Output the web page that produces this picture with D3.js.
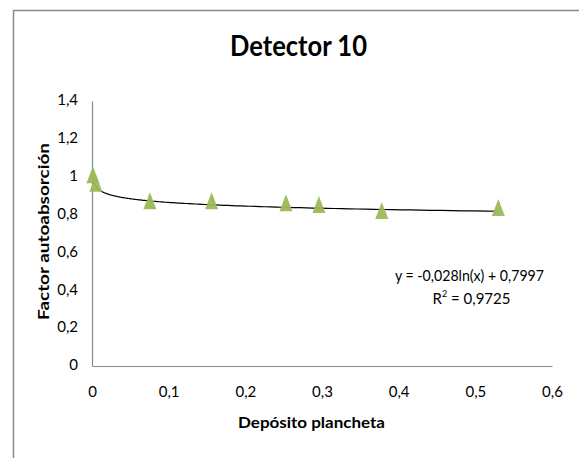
<!DOCTYPE html>
<html><head><meta charset="utf-8">
<script src="https://cdn.jsdelivr.net/npm/d3@7"></script>
<style>body{margin:0;background:#fff}svg{display:block}text{font-family:Lato,"Open Sans",sans-serif}</style>
</head><body><div id="c"></div>
<script>
// Data
const depositoX = [0.0012, 0.005, 0.0755, 0.156, 0.253, 0.296, 0.378, 0.53];
const factorY   = [1.01, 0.965, 0.873, 0.873, 0.862, 0.853, 0.821, 0.837];
const trendA = -0.028, trendB = 0.7997;
const xTicks = [0, 0.1, 0.2, 0.3, 0.4, 0.5, 0.6];
const xTickLabels = ["0", "0,1", "0,2", "0,3", "0,4", "0,5", "0,6"];
const yTicks = [0, 0.2, 0.4, 0.6, 0.8, 1, 1.2, 1.4];
const yTickLabels = ["0", "0,2", "0,4", "0,6", "0,8", "1", "1,2", "1,4"];

const W = 579, H = 458;
const svg = d3.select("#c").append("svg").attr("width", W).attr("height", H);

// chart border (partly cropped)
svg.append("rect").attr("x", 13.5).attr("y", 10.5).attr("width", 700).attr("height", 600)
  .attr("fill", "none").attr("stroke", "#8a8a8a").attr("stroke-width", 1.5);

const x = d3.scaleLinear().domain([0, 0.6]).range([92, 552]);
const y = d3.scaleLinear().domain([0, 1.4]).range([366, 101]);

// axes
const xAxis = d3.axisBottom(x).tickValues(xTicks).tickSize(0)
  .tickFormat((d, i) => xTickLabels[i]);
const gx = svg.append("g").attr("transform", `translate(0,${y(0)})`).call(xAxis);
gx.select(".domain").attr("stroke", "#8a8a8a").attr("stroke-width", 1.2);
gx.selectAll("text").attr("dy", null).attr("y", 27).attr("dominant-baseline", "middle")
  .attr("font-size", 15).attr("fill", "#000").style("font-family", "Lato");

const yAxis = d3.axisLeft(y).tickValues(yTicks).tickSize(0)
  .tickFormat((d, i) => yTickLabels[i]);
const gy = svg.append("g").attr("transform", `translate(${x(0)},0)`).call(yAxis);
gy.select(".domain").attr("stroke", "#8a8a8a").attr("stroke-width", 1.2);
gy.selectAll("text").attr("dy", null).attr("x", -14).attr("dominant-baseline", "middle")
  .attr("font-size", 15).attr("fill", "#000").style("font-family", "Lato");

// trendline
const xmin = d3.min(depositoX), xmax = d3.max(depositoX);
const trendPts = d3.range(0, 201).map(i => {
  const xv = Math.exp(Math.log(xmin) + (Math.log(xmax) - Math.log(xmin)) * i / 200);
  return [xv, trendA * Math.log(xv) + trendB];
});
svg.append("path").datum(trendPts)
  .attr("d", d3.line().x(d => x(d[0])).y(d => y(d[1])))
  .attr("fill", "none").attr("stroke", "#000").attr("stroke-width", 1.2);

// markers
const tw = 13, th = 17;
const tri = `M0,${-th/2}L${tw/2},${th/2}L${-tw/2},${th/2}Z`;
svg.append("g").selectAll("path").data(depositoX.map((d, i) => [d, factorY[i]]))
  .join("path")
  .attr("d", tri)
  .attr("transform", d => `translate(${x(d[0])},${y(d[1])})`)
  .attr("fill", "#9BBB59").attr("opacity", 0.95);

// title
svg.append("text").attr("x", 298.5).attr("y", 49).attr("text-anchor", "middle")
  .attr("dominant-baseline", "middle").attr("font-size", 28).attr("font-weight", "bold")
  .attr("textLength", 137).attr("lengthAdjust", "spacingAndGlyphs").text("Detector 10");

// axis titles
svg.append("text").attr("x", 311.5).attr("y", 424).attr("text-anchor", "middle")
  .attr("dominant-baseline", "middle").attr("font-size", 15).attr("font-weight", "bold")
  .attr("textLength", 147).attr("lengthAdjust", "spacingAndGlyphs").text("Depósito plancheta");
svg.append("text").attr("transform", "translate(45,231.5) rotate(-90)").attr("text-anchor", "middle")
  .attr("dominant-baseline", "middle").attr("font-size", 15).attr("font-weight", "bold")
  .attr("textLength", 177).attr("lengthAdjust", "spacingAndGlyphs").text("Factor autoabsorción");

// equation
svg.append("text").attr("x", 469.5).attr("y", 277).attr("text-anchor", "middle")
  .attr("dominant-baseline", "middle").attr("font-size", 15)
  .attr("textLength", 149).attr("lengthAdjust", "spacingAndGlyphs").text("y = -0,028ln(x) + 0,7997");
const r2 = svg.append("text").attr("x", 471.5).attr("y", 300).attr("text-anchor", "middle")
  .attr("dominant-baseline", "middle").attr("font-size", 15);
r2.append("tspan").text("R");
r2.append("tspan").attr("font-size", 9).attr("dy", -5).text("2");
r2.append("tspan").attr("dy", 5).text(" = 0,9725");
</script></body></html>
